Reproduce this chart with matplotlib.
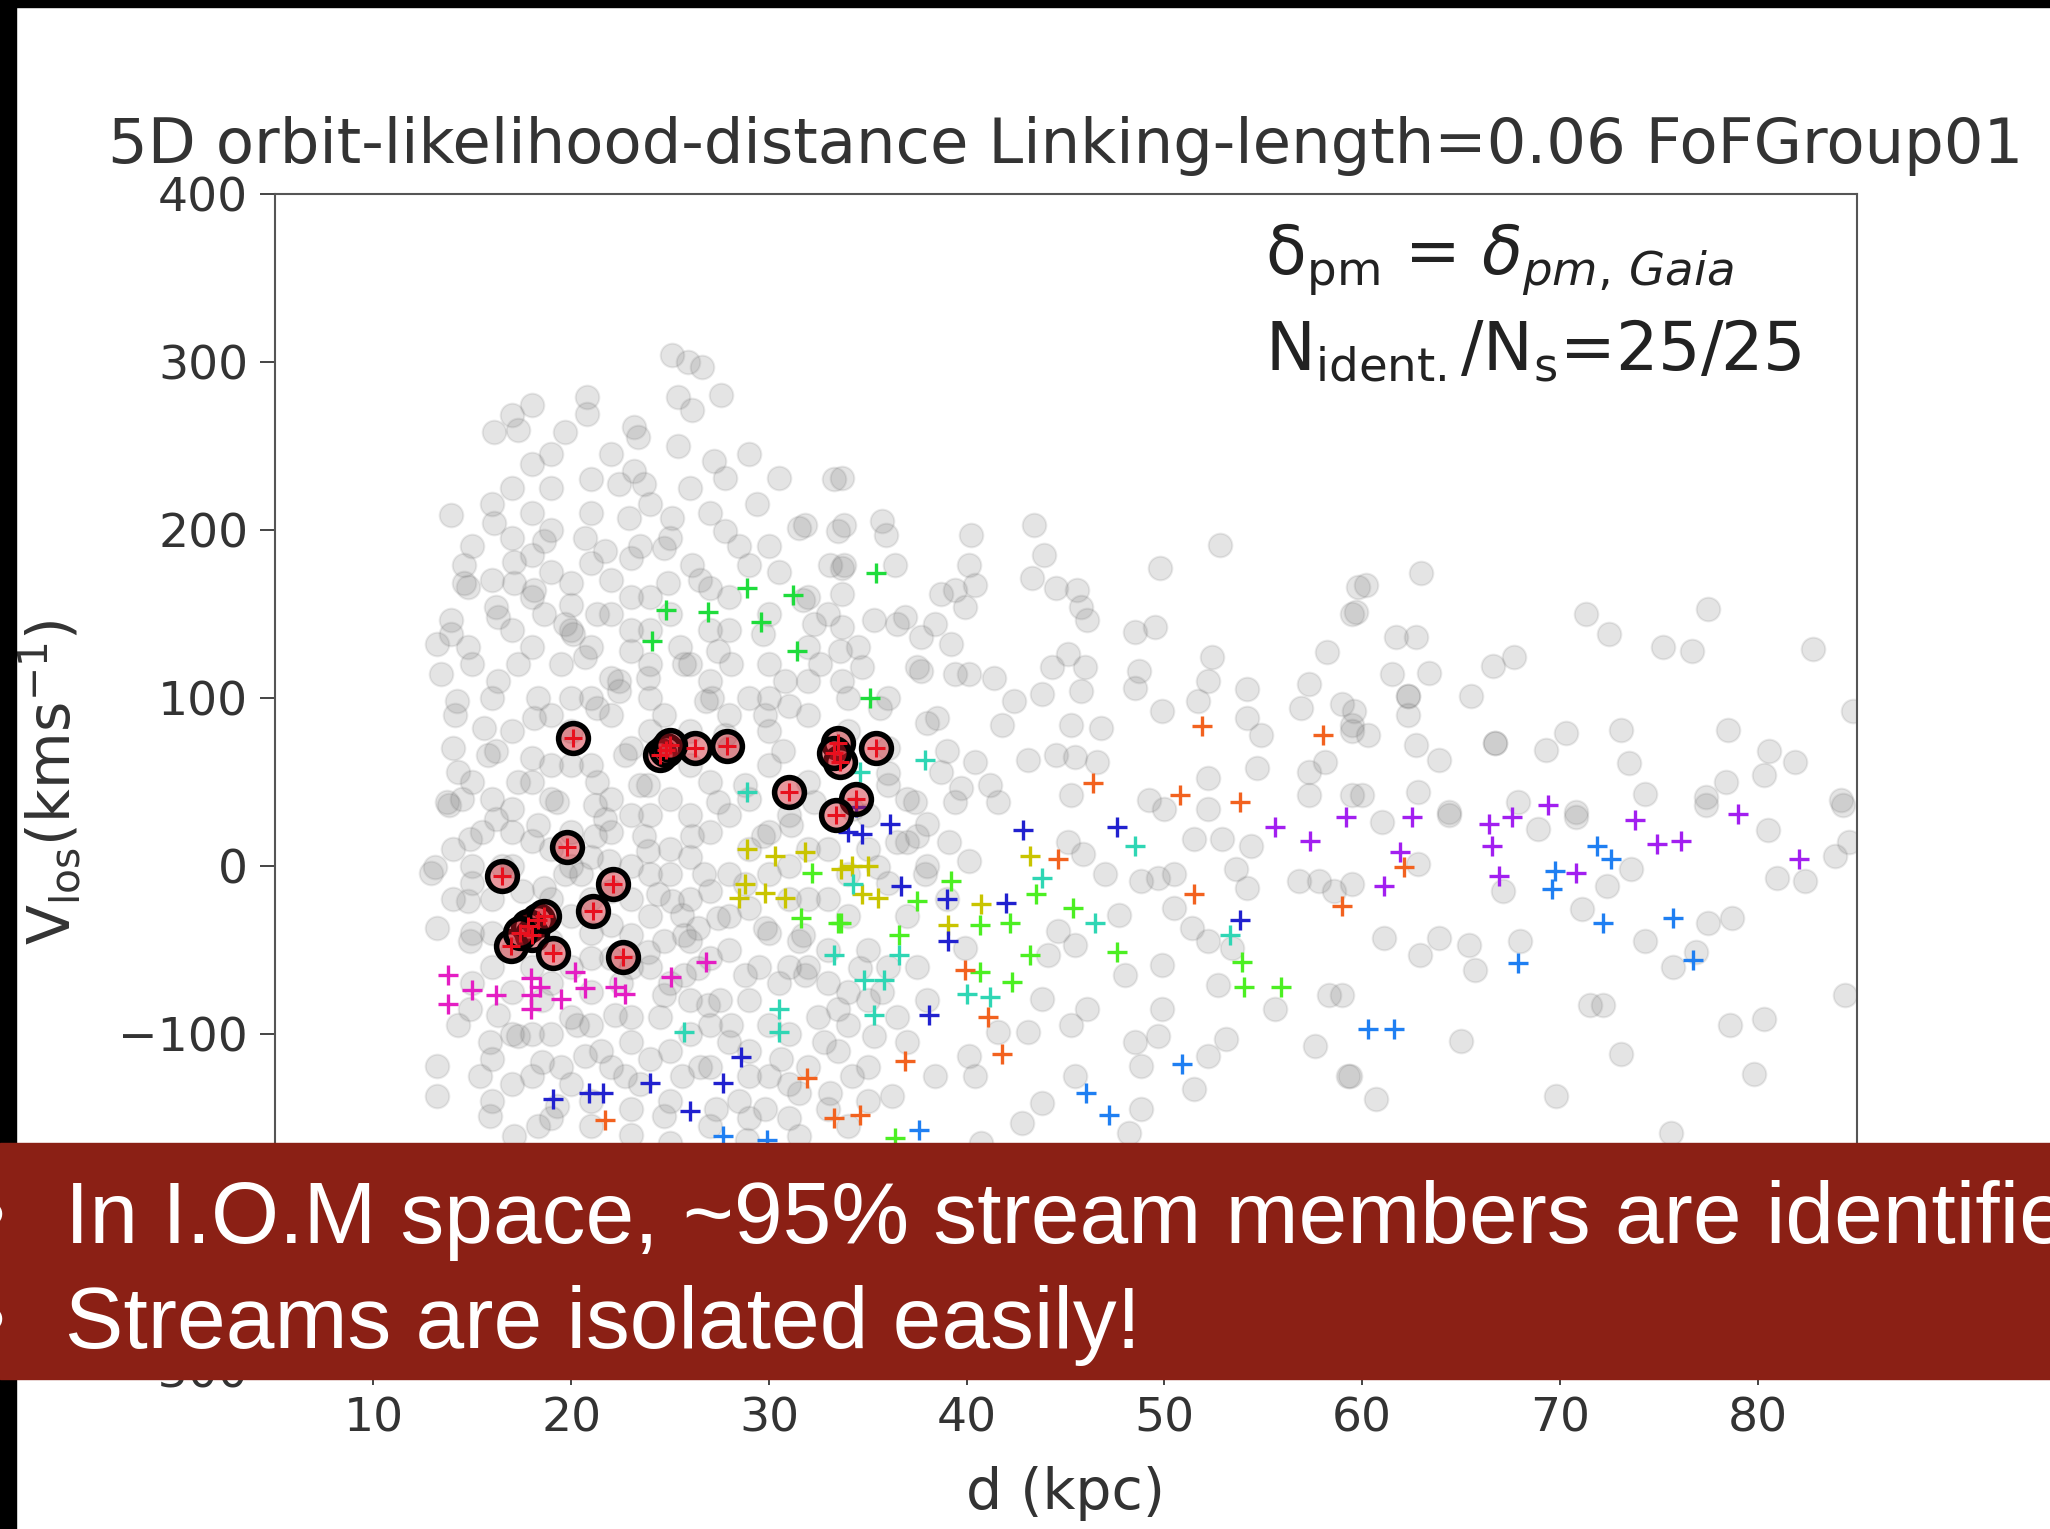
import matplotlib.pyplot as plt
from matplotlib.patches import Rectangle

# field stars (d [kpc], v_los [km/s])
grey_pts = [
    (25.1,304),(25.9,300),(26.6,297),(27.6,280),(25.4,279),(26.1,271),(20.8,279),(20.8,269),(18.0,274),
    (17.0,268),(16.1,258),(19.7,258),(17.3,259),(23.2,261),(23.4,255),(25.4,250),(27.2,241),(27.8,231),
    (30.5,231),(33.3,230),(29.4,215),(18.0,239),(19.0,225),(17.0,225),(23.2,235),(22.4,227),(23.7,227),
    (13.9,209),(16.1,204),(18.6,193),(20.7,195),(22.9,207),(25.1,207),(27.8,199),(31.5,201),(33.5,199),
    (33.7,177),(14.6,179),(14.8,166),(17.1,181),(17.1,168),(20.0,168),(21.7,187),(23.0,183),(24.7,189),
    (26.1,179),(29.0,179),(24.9,168),(13.2,132),(13.9,146),(14.8,130),(13.4,114),(16.3,148),(18.0,160),
    (18.6,150),(16.3,110),(17.3,120),(19.7,144),(21.3,150),(22.4,110),(23.0,128),(20.7,124),(25.7,120),
    (27.1,100),(28.1,120),(30.8,110),(32.6,120),(32.3,144),(31.8,203),(33.1,179),(14.1,90),(15.6,82),
    (18.3,100),(21.3,94),(24.7,90),(29.8,90),(33.7,110),
    (33.7,231),(33.8,203),(35.7,205),(35.9,197),(36.4,179),(33.8,179),(40.2,197),(40.1,179),(40.4,167),
    (39.9,154),(43.4,203),(43.9,185),(43.3,171),(44.5,165),(45.6,164),(45.8,154),(46.1,146),(38.7,162),
    (38.4,144),(39.2,132),(35.3,146),(36.9,148),(33.7,142),(49.8,177),(52.8,191),(48.5,139),(49.5,142),
    (58.2,127),(59.8,166),(59.5,150),(52.4,124),(52.2,110),(51.7,98),(54.2,105),(54.2,88),(57.3,108),
    (56.9,94),(59.0,96),(49.9,92),(48.7,116),(48.5,106),(46.0,118),(45.8,104),(44.3,118),(45.1,126),
    (43.8,102),(42.4,98),(41.4,112),(40.1,114),(37.7,116),(34.7,118),(38.5,88),(41.8,84),(45.3,84),
    (46.8,82),(54.9,78),(59.5,84),(33.7,162),(37.7,136),
    (60.2,167),(63.0,174),(59.7,151),(61.7,136),(62.7,136),(61.5,114),(63.4,115),(62.3,101),(62.3,101),
    (62.3,90),(59.6,92),(59.5,80),(60.3,78),(62.7,72),(63.9,63),(65.5,101),(66.6,119),(67.7,124),
    (66.7,73),(66.7,73),(69.3,69),(70.3,79),(71.3,150),(72.5,138),(75.2,130),(76.7,128),(77.5,153),
    (82.8,129),(73.1,81),(73.5,61),(78.5,81),(80.6,68),(81.9,62),(80.3,54),(78.4,50),(77.4,41),
    (74.3,43),(84.2,39),(84.8,92),(60.0,42),(62.8,44),(64.4,32),(67.9,38),(70.8,32),
    (61.0,26),(64.4,30),(68.9,22),(70.8,29),(77.4,36),(80.5,21),(84.3,36),(83.9,6),(84.6,14),
    (81.0,-7),(82.4,-9),(62.8,1),(67.1,-15),(72.4,-12),(73.6,-2),(71.1,-26),(77.5,-34),(78.7,-31),
    (61.1,-43),(62.9,-53),(63.9,-43),(65.4,-47),(65.7,-62),(68.0,-45),(74.3,-45),(75.7,-60),(76.9,-51),
    (78.6,-95),(80.3,-91),(71.5,-83),(72.2,-83),(65.0,-104),(73.1,-112),(79.8,-124),(84.4,-77),
    (59.4,-125),(60.7,-139),(69.8,-137),(75.6,-159),(59.0,-77),
    (43.1,63),(44.5,66),(45.5,65),(46.6,62),(41.6,38),(41.2,48),(39.7,46),(38.7,56),(40.4,62),
    (36.0,48),(36.5,14),(40.1,3),(39.1,14),(37.9,-5),(45.3,42),(45.1,14),(45.9,7),(47.0,-5),
    (49.2,39),(50.0,34),(52.2,52),(52.2,34),(52.9,16),(51.5,16),(54.7,58),(57.3,56),(58.1,62),
    (57.3,42),(59.5,42),(54.4,12),(56.8,-9),(57.8,-9),(58.6,-15),(59.5,-11),(48.8,-9),(49.7,-7),
    (50.5,-5),(53.6,-2),(54.2,-13),(50.5,-25),(51.4,-37),(52.2,-45),(47.7,-29),(48.0,-65),(49.9,-59),
    (45.5,-47),(44.6,-39),(52.7,-71),(53.4,-49),(55.6,-85),(58.3,-77),(57.6,-107),(59.3,-125),
    (51.5,-133),(53.1,-103),(52.2,-113),(49.9,-85),(48.5,-105),(49.7,-101),(48.8,-119),(48.2,-159),
    (43.8,-79),(43.1,-99),(45.3,-95),(46.1,-85),(42.8,-153),(43.8,-141),(45.5,-125),(40.4,-125),
    (40.1,-113),(38.4,-125),(35.3,-101),(36.2,-137),(34.2,-125),(35.7,-75),(37.0,14),(34.2,34),
    (37.4,38),(40.7,-165),(48.8,-145),(39.9,-49),(44.1,-53),(41.6,-99),
    (12.9,-4),(13.2,-37),(13.2,-119),(13.2,-137),(13.8,36),(14.3,56),(14.9,16),(14.8,-21),(14.9,-45),
    (15.4,-125),(15.9,-149),(15.9,-105),(16.3,-89),(17.0,34),(17.3,50),(18.3,24),(19.3,38),(18.6,-13),
    (19.7,-5),(17.3,-101),(18.5,-117),(19.3,-143),(20.3,-95),(20.7,-113),(21.3,50),(21.7,28),(21.9,3),
    (22.2,-89),(22.7,-125),(23.0,-41),(23.9,48),(23.7,18),(24.4,-17),(24.7,-45),(25.6,-29),(26.4,-37),
    (26.9,-83),(25.7,-65),(24.7,-77),(26.7,-5),(26.1,18),(27.4,38),(24.7,-149),(25.6,-125),(27.3,-145),
    (28.1,-95),(28.8,-65),(31.5,-45),(31.8,-65),(29.8,-37),(31.1,24),(32.3,38),(32.8,-105),(31.5,-135),
    (29.8,-145),(33.1,-135),(33.5,-85),(30.6,-115),(23.0,-145),(21.0,-155),(18.3,-155),(17.1,-161),
    (14.9,-85),(14.3,-95),(28.9,-163),(31.5,-161),(34.0,-155),(24.7,70),(18.0,64),(15.8,66),(22.7,66),
    (14.6,168),(13.9,138),(16.2,154),(18.1,164),(20.1,138),(22.0,112),(22.4,104),(23.9,112),(23.5,48),
    (21.2,36),(26.8,98),(27.4,128),(29.7,138),(31.7,158),(33.6,128),(36.5,144),(37.5,118),(39.4,164),
    (39.4,114),(35.6,94),(39.0,68),(18.1,88),(16.2,68),(14.2,98),(13.7,38),(13.1,-1),(16.2,28),
    (21.2,18),(23.9,9),(25.1,-21),(27.4,-31),(25.7,-41),(23.9,-51),(26.4,-61),(29.7,18),(28.8,-11),
    (31.7,-41),(37.5,18),(39.4,38),(30.7,68),(28.8,48),(35.5,-1),(34.6,-61),(27.8,78),
    (14.5,40),(15.5,20),(16.5,0),(17.5,-15),(18.0,15),(19.0,40),(20.0,20),(20.5,-5),(21.0,-20),
    (22.0,-35),(23.0,-20),(24.0,-5),(25.0,10),(26.0,30),(27.0,50),(28.0,30),(29.0,10),(30.0,-5),
    (31.0,-20),(29.5,-60),(27.5,-80),(26.0,-100),(24.5,-90),(22.5,-70),(20.0,-60),(18.5,-80),
    (17.0,-100),(16.0,-60),(19.5,-120),(21.5,-110),(23.5,-130),(26.5,-120),(28.5,-140),(30.0,-125),
    (32.5,-90),(33.5,-110),(35.0,-120),(36.5,-90),(37.5,-60),(34.0,-75),(32.0,-60),(30.5,-70),
    (24.0,100),(25.5,130),(22.0,150),(19.5,120),(17.0,140),(21.0,180),(23.5,190),(26.5,170),
    (28.5,190),(30.5,175),(32.0,160),(34.5,130),(36.0,100),(38.0,85),(31.0,95),(29.0,100),(27.0,110),
    # denser core
    (15,120),(16,100),(18,130),(20,100),(21,130),(23,140),(25,150),(27,140),(28,160),(30,150),
    (32,130),(30,120),(24,120),(22,90),(20,80),(19,60),(21,60),(23,70),(26,80),(28,90),(30,80),
    (32,90),(34,80),(36,70),(37,40),(35,30),(33,10),(31,0),(29,-25),(27,-15),(25,-5),(23,0),
    (21,-40),(19,-20),(17,20),(15,0),(14,-20),(15,-40),(16,-20),(17,-50),(19,-45),(21,-75),
    (23,-90),(25,-110),(27,-95),(29,-110),(31,-100),(33,-70),(35,-50),(37,-30),(36,-10),(34,-30),
    (32,-20),(30,-40),(28,-50),(26,-45),(24,-60),(22,-55),(20,-90),(18,-100),(16,-115),(15,-70),
    (17,-130),(19,-150),(21,-140),(23,-160),(25,-165),(27,-155),(29,-125),(31,-150),(33,-145),
    (35,-140),(37,-105),(38,-80),(39,-20),(38,0),(38,25),(36,55),(34,100),(33,150),(30,190),
    (27,210),(24,215),(21,210),(19,200),(17,195),(15,190),(16,215),(19,245),(22,245),(26,225),
    (29,245),(24,160),(20,155),(26,5),(28,-5),(30,20),(32,10),(24,30),(22,40),(20,0),
    (14,10),(14,70),(15,50),(15,-10),(16,40),(16,-40),(16,-140),(17,80),(17,0),(17,-75),(18,50),
    (18,-60),(18,-125),(19,90),(19,10),(19,-70),(19,-100),(20,60),(20,-30),(20,-130),(21,100),
    (21,5),(21,-55),(21,-95),(22,20),(22,-15),(22,-120),(23,30),(23,-60),(23,-105),(24,80),
    (24,-30),(24,-115),(25,40),(25,-70),(25,-140),(26,60),(26,-20),(26,-80),(27,20),(27,-55),
    (27,-120),(28,70),(28,-30),(28,-105),(29,40),(29,-80),(29,-150),(30,60),(30,-95),(31,30),
    (31,-60),(31,-130),(32,50),(32,-120),(33,-20),(33,-50),(34,-5),(34,-95),(35,10),(35,-80),
    (36,-60),(16,170),(18,185),(20,140),(22,170),(24,140),(26,120),(28,140),(30,100),(32,110),
    (19,175),(23,160),(27,165),(25,195),(21,230),(18,210),
]

# identified stream members (black rings)
member_pts = [
    (20.1,76),(24.5,66),(24.8,69),(26.25,70),(27.9,71),(33.5,73),(35.4,70),(33.6,62),(31.0,44),
    (34.4,40),(33.4,30),(19.8,11),(16.5,-6),(22.1,-11),(21.1,-27),(18.3,-32),(17.8,-36),(18.0,-41),
    (16.95,-48),(19.1,-52),(22.6,-54),(17.4,-40),(18.6,-30),(33.3,67),(25.0,72),
]

# FoF groups (crosses)
magenta_pts = [
    (13.75,-65),(13.75,-82),(15.0,-74),(16.2,-77),(17.97,-67),(17.97,-77),(17.97,-85),(18.4,-72),
    (19.5,-79),(20.2,-63),(20.7,-73),(22.2,-72),(22.7,-76),(25.05,-66),(26.8,-57),
]
green_pts = [
    (28.9,165),(31.2,161),(24.8,152),(26.9,151),(29.6,145),(24.1,134),(31.4,128),(35.4,174),(35.1,100),
]
lime_pts = [
    (36.6,-41),(40.65,-63),(42.3,-69),(43.2,-53),(42.2,-34),(40.65,-35),(45.4,-25),(47.6,-51),
    (53.9,-57),(54.0,-72),(55.9,-72),(37.5,-21),(39.2,-9),(43.5,-17),(36.4,-162),(33.65,-34),
    (32.2,-4),(31.6,-31),(33.5,-34),
]
yellow_pts = [
    (28.9,10),(30.3,6),(28.8,-11),(29.8,-16),(30.8,-19),(28.5,-19),(33.65,-2),(34.2,0),(35.5,-19),
    (40.7,-23),(39.05,-35),(43.2,6),(34.7,-17),(31.8,8),(35.0,0),
]
cyan_pts = [
    (37.9,63),(34.6,56),(43.8,-7),(48.5,12),(46.5,-34),(53.3,-41),(34.25,-11),(36.6,-53),(34.8,-68),
    (35.8,-68),(35.3,-89),(40.0,-76),(41.2,-78),(28.9,44),(25.7,-99),(30.5,-85),(30.5,-99),(33.3,-53),
]
blue_pts = [
    (36.1,25),(34.7,19),(34.0,20),(42.85,21),(47.6,23),(36.7,-12),(39.0,-20),(42.0,-22),(39.05,-45),
    (53.8,-32),(38.1,-89),(28.6,-114),(27.7,-129),(24.0,-129),(26.0,-146),(20.9,-135),(21.6,-135),
    (19.1,-139),(34.4,35),
]
orange_pts = [
    (51.9,83),(58.0,78),(46.4,49),(50.8,42),(53.8,38),(44.6,4),(51.5,-17),(59.0,-24),(39.9,-62),
    (41.1,-90),(41.8,-112),(36.9,-116),(34.6,-148),(31.9,-126),(33.3,-150),(21.7,-151),(62.1,-1),
]
purple_pts = [
    (59.2,29),(62.5,29),(66.4,25),(67.6,29),(69.4,36),(73.8,27),(79.0,31),(61.9,8),(61.1,-12),
    (66.55,12),(66.9,-6),(70.8,-4),(74.9,13),(76.1,15),(82.1,4),(55.6,23),(57.35,15),
]
dodger_pts = [
    (71.9,12),(72.6,4),(69.75,-3),(69.6,-14),(72.2,-34),(75.7,-31),(76.75,-56),(67.9,-58),
    (60.3,-97),(61.6,-97),(50.9,-118),(46.05,-135),(47.2,-148),(37.6,-157),(27.7,-161),(29.9,-163),
]

cross_groups = [
    (magenta_pts, '#e41ec3'), (green_pts, '#1fdc3c'), (lime_pts, '#4cef22'),
    (yellow_pts, '#c9c400'), (cyan_pts, '#2fd6b4'), (blue_pts, '#2121cf'),
    (orange_pts, '#f2621f'), (purple_pts, '#a21ff0'), (dodger_pts, '#1f7ff2'),
]

title = '5D orbit-likelihood-distance Linking-length=0.06 FoFGroup01'
xticks = [10, 20, 30, 40, 50, 60, 70, 80]
yticks = [-300, -200, -100, 0, 100, 200, 300, 400]
bullets = ['In I.O.M space, ~95% stream members are identified',
           'Streams are isolated easily!']

W, H = 2050, 1529
fig = plt.figure(figsize=(W / 100, H / 100), dpi=100)
fig.patch.set_facecolor('white')

ax = fig.add_axes([274.6 / W, 1 - 1370 / H, (1856.5 - 274.6) / W, (1370 - 193.5) / H])
txt = '#333333'

gd, gv = zip(*grey_pts)
ax.scatter(gd, gv, s=290, facecolor=(0.45, 0.45, 0.45, 0.19),
           edgecolor=(0.35, 0.35, 0.35, 0.12), linewidths=1.5, zorder=1)

for pts, col in cross_groups:
    d, v = zip(*pts)
    ax.scatter(d, v, marker='+', s=190, color=col, linewidths=2.4, zorder=3)

md, mv = zip(*member_pts)
ax.scatter(md, mv, s=460, facecolor=(0.8, 0.1, 0.15, 0.45), edgecolor='black',
           linewidths=4.0, zorder=4)
ax.scatter(md, mv, marker='+', s=170, color='#e8101e', linewidths=2.2, zorder=5)

ax.set_xlim(5, 85)
ax.set_ylim(-300, 400)
ax.set_xticks(xticks)
ax.set_yticks(yticks)
ax.tick_params(labelsize=34, length=11, width=1.4, colors='#444444', labelcolor=txt, pad=8)
for sp in ax.spines.values():
    sp.set_color('#555555')
    sp.set_linewidth(1.5)

ax.set_title(title, fontsize=45, color=txt, pad=22)
ax.set_xlabel('d (kpc)', fontsize=41, color=txt)
ax.xaxis.set_label_coords(0.5, -0.082)
ax.set_ylabel(r'V$_{\rm los}$(kms$^{-1}$)', fontsize=42, color=txt)
ax.yaxis.set_label_coords(-0.121, 0.5)

ax.text(0.626, 0.931, r'$\mathrm{\delta_{pm}}$ = $\delta_{pm,\,Gaia}$', transform=ax.transAxes,
        fontsize=48, color='#222222', va='baseline')
ax.text(0.626, 0.850, r'N$_{\rm ident.}$/N$_{\rm s}$=25/25', transform=ax.transAxes,
        fontsize=48, color='#222222', va='baseline')

# slide frame: black edges and the red caption banner
fig.patches.append(Rectangle((0, 0), 16 / W, 1, transform=fig.transFigure, color='black', zorder=10))
fig.patches.append(Rectangle((0, 1 - 7 / H), 1, 7 / H, transform=fig.transFigure, color='black', zorder=10))
fig.patches.append(Rectangle((0, 1 - 1379 / H), 1, (1379 - 1143) / H, transform=fig.transFigure,
                             color='#8b2015', zorder=11))
for i, line in enumerate(bullets):
    y = 1 - (1242.7 + 105.3 * i) / H
    fig.text(-26 / W, y, '\u2022', fontsize=63, color='white', family='Liberation Sans',
             va='baseline', zorder=12)
    fig.text(65 / W, y, line, fontsize=63, color='white', family='Liberation Sans',
             va='baseline', zorder=12)

fig.savefig('out.png', dpi=100)
